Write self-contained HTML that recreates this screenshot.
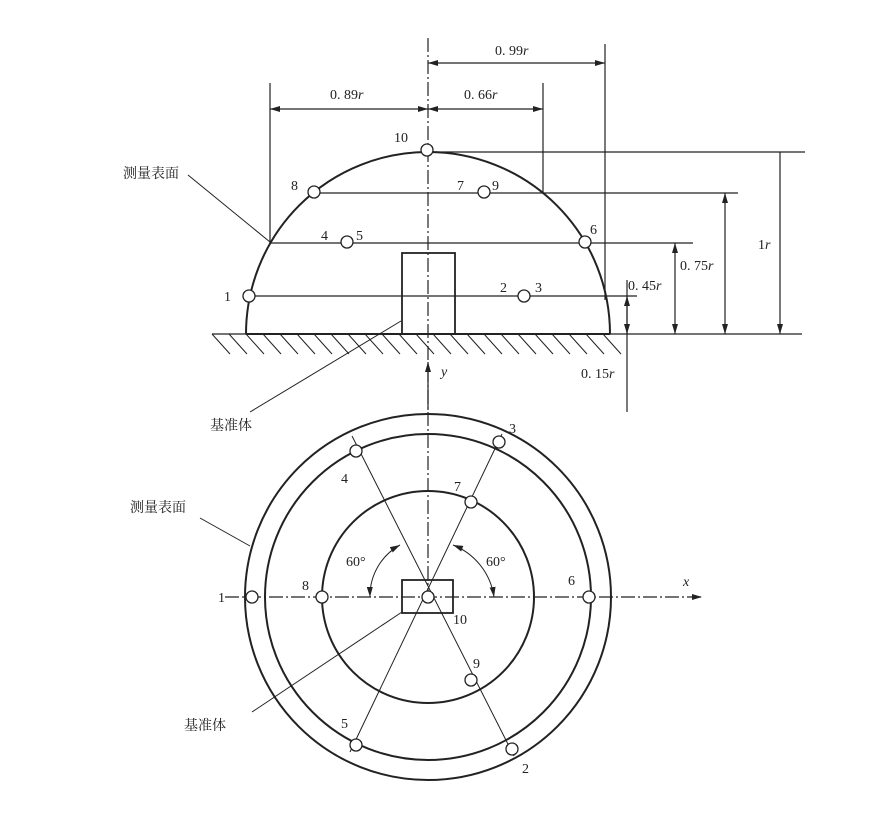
<!DOCTYPE html>
<html><head><meta charset="utf-8"><style>
html,body{margin:0;padding:0;background:#fff;}
svg{display:block;}
text{font-family:"Liberation Serif","Noto Serif CJK SC",serif;font-size:14px;fill:#222;}
.cjk{font-family:"Liberation Serif","Noto Serif CJK SC","Noto Sans CJK SC",serif;font-size:14px;}
</style></head><body>
<svg width="873" height="836" viewBox="0 0 873 836" xmlns="http://www.w3.org/2000/svg">
<defs>
<marker id="a" viewBox="0 0 10 6" refX="10" refY="3" markerWidth="10" markerHeight="6" orient="auto-start-reverse" markerUnits="userSpaceOnUse"><path d="M0,0 L10,3 L0,6z" fill="#222"/></marker>
</defs>
<g stroke="#222" fill="none" stroke-width="1.2">
<!-- axes -->
<line x1="428" y1="38" x2="428" y2="600" stroke-dasharray="14,3,2,3"/>
<line x1="428" y1="410" x2="428" y2="362" marker-end="url(#a)"/>
<line x1="225" y1="597" x2="702" y2="597" stroke-dasharray="14,3,2,3" marker-end="url(#a)"/>
<!-- hemisphere -->
<path d="M246,334 A182,182 0 0 1 610,334" stroke-width="2"/>
<line x1="212" y1="334" x2="802" y2="334"/>
<line x1="246" y1="334" x2="610" y2="334" stroke-width="2"/>
<g stroke-width="1">
<path d="M212,334l18,20M229,334l18,20M246,334l18,20M263,334l18,20M280,334l18,20M297,334l18,20M314,334l18,20M331,334l18,20M348,334l18,20M365,334l18,20M382,334l18,20M399,334l18,20M416,334l18,20M433,334l18,20M450,334l18,20M467,334l18,20M484,334l18,20M501,334l18,20M518,334l18,20M535,334l18,20M552,334l18,20M569,334l18,20M586,334l18,20M603,334l18,20"/>
</g>
<rect x="402" y="253" width="53" height="81" stroke-width="1.8"/>
<!-- horizontal levels -->
<line x1="427" y1="152" x2="805" y2="152"/>
<line x1="314" y1="193" x2="738" y2="193"/>
<line x1="270" y1="243" x2="693" y2="243"/>
<line x1="249" y1="296" x2="637" y2="296"/>
<!-- vertical dims -->
<line x1="780" y1="152" x2="780" y2="334" marker-end="url(#a)"/>
<line x1="725" y1="193" x2="725" y2="334" marker-start="url(#a)" marker-end="url(#a)"/>
<line x1="675" y1="243" x2="675" y2="334" marker-start="url(#a)" marker-end="url(#a)"/>
<line x1="627" y1="280" x2="627" y2="412"/>
<line x1="627" y1="318" x2="627" y2="296" marker-end="url(#a)"/>
<line x1="627" y1="318" x2="627" y2="334" marker-end="url(#a)"/>
<!-- top dims -->
<line x1="270" y1="83" x2="270" y2="243"/>
<line x1="543" y1="83" x2="543" y2="193"/>
<line x1="605" y1="44" x2="605" y2="300"/>
<line x1="270" y1="109" x2="428" y2="109" marker-start="url(#a)" marker-end="url(#a)"/>
<line x1="428" y1="109" x2="543" y2="109" marker-start="url(#a)" marker-end="url(#a)"/>
<line x1="428" y1="63" x2="605" y2="63" marker-start="url(#a)" marker-end="url(#a)"/>
<!-- leaders top -->
<line x1="188" y1="175" x2="270" y2="242" stroke-width="1"/>
<line x1="250" y1="412" x2="401" y2="321" stroke-width="1"/>
<!-- bottom circles -->
<circle cx="428" cy="597" r="183" stroke-width="2"/>
<circle cx="428" cy="597" r="163" stroke-width="2"/>
<circle cx="428" cy="597" r="106" stroke-width="2"/>
<rect x="402" y="580" width="51" height="33" stroke-width="1.8"/>
<line x1="352" y1="436" x2="514" y2="756" stroke-width="1"/>
<line x1="502" y1="434" x2="350" y2="752" stroke-width="1"/>
<line x1="200" y1="518" x2="250" y2="546" stroke-width="1"/>
<line x1="252" y1="712" x2="402" y2="612" stroke-width="1"/>
<path d="M370,597 A58,58 0 0 1 400,545" marker-start="url(#a)" marker-end="url(#a)" stroke-width="1"/>
<path d="M494,597 A66,66 0 0 0 453,545" marker-start="url(#a)" marker-end="url(#a)" stroke-width="1"/>
</g>
<!-- points -->
<g stroke="#222" fill="#fff" stroke-width="1.3">
<circle cx="427" cy="150" r="6"/><circle cx="314" cy="192" r="6"/><circle cx="484" cy="192" r="6"/>
<circle cx="347" cy="242" r="6"/><circle cx="585" cy="242" r="6"/><circle cx="249" cy="296" r="6"/><circle cx="524" cy="296" r="6"/>
<circle cx="252" cy="597" r="6"/><circle cx="322" cy="597" r="6"/><circle cx="589" cy="597" r="6"/><circle cx="428" cy="597" r="6"/>
<circle cx="356" cy="451" r="6"/><circle cx="499" cy="442" r="6"/><circle cx="471" cy="502" r="6"/><circle cx="471" cy="680" r="6"/>
<circle cx="356" cy="745" r="6"/><circle cx="512" cy="749" r="6"/>
</g>
<!-- labels -->
<text x="394" y="142">10</text><text x="291" y="190">8</text><text x="457" y="190">7</text><text x="492" y="190">9</text>
<text x="321" y="240">4</text><text x="356" y="240">5</text><text x="590" y="234">6</text>
<text x="224" y="301">1</text><text x="500" y="292">2</text><text x="535" y="292">3</text>
<text x="330" y="99">0. 89<tspan font-style="italic">r</tspan></text>
<text x="464" y="99">0. 66<tspan font-style="italic">r</tspan></text>
<text x="495" y="55">0. 99<tspan font-style="italic">r</tspan></text>
<text x="758" y="249">1<tspan font-style="italic">r</tspan></text>
<text x="680" y="270">0. 75<tspan font-style="italic">r</tspan></text>
<text x="628" y="290">0. 45<tspan font-style="italic">r</tspan></text>
<text x="581" y="378">0. 15<tspan font-style="italic">r</tspan></text>
<text x="441" y="376" font-style="italic">y</text>
<text x="683" y="586" font-style="italic">x</text>
<text class="cjk" x="123" y="178">测量表面</text>
<text class="cjk" x="210" y="430">基准体</text>
<text class="cjk" x="130" y="512">测量表面</text>
<text class="cjk" x="184" y="730">基准体</text>
<text x="218" y="602">1</text><text x="302" y="590">8</text><text x="568" y="585">6</text>
<text x="453" y="624">10</text><text x="341" y="483">4</text><text x="509" y="433">3</text>
<text x="454" y="491">7</text><text x="473" y="668">9</text><text x="341" y="728">5</text><text x="522" y="773">2</text>
<text x="346" y="566">60°</text><text x="486" y="566">60°</text>
</svg>
</body></html>
